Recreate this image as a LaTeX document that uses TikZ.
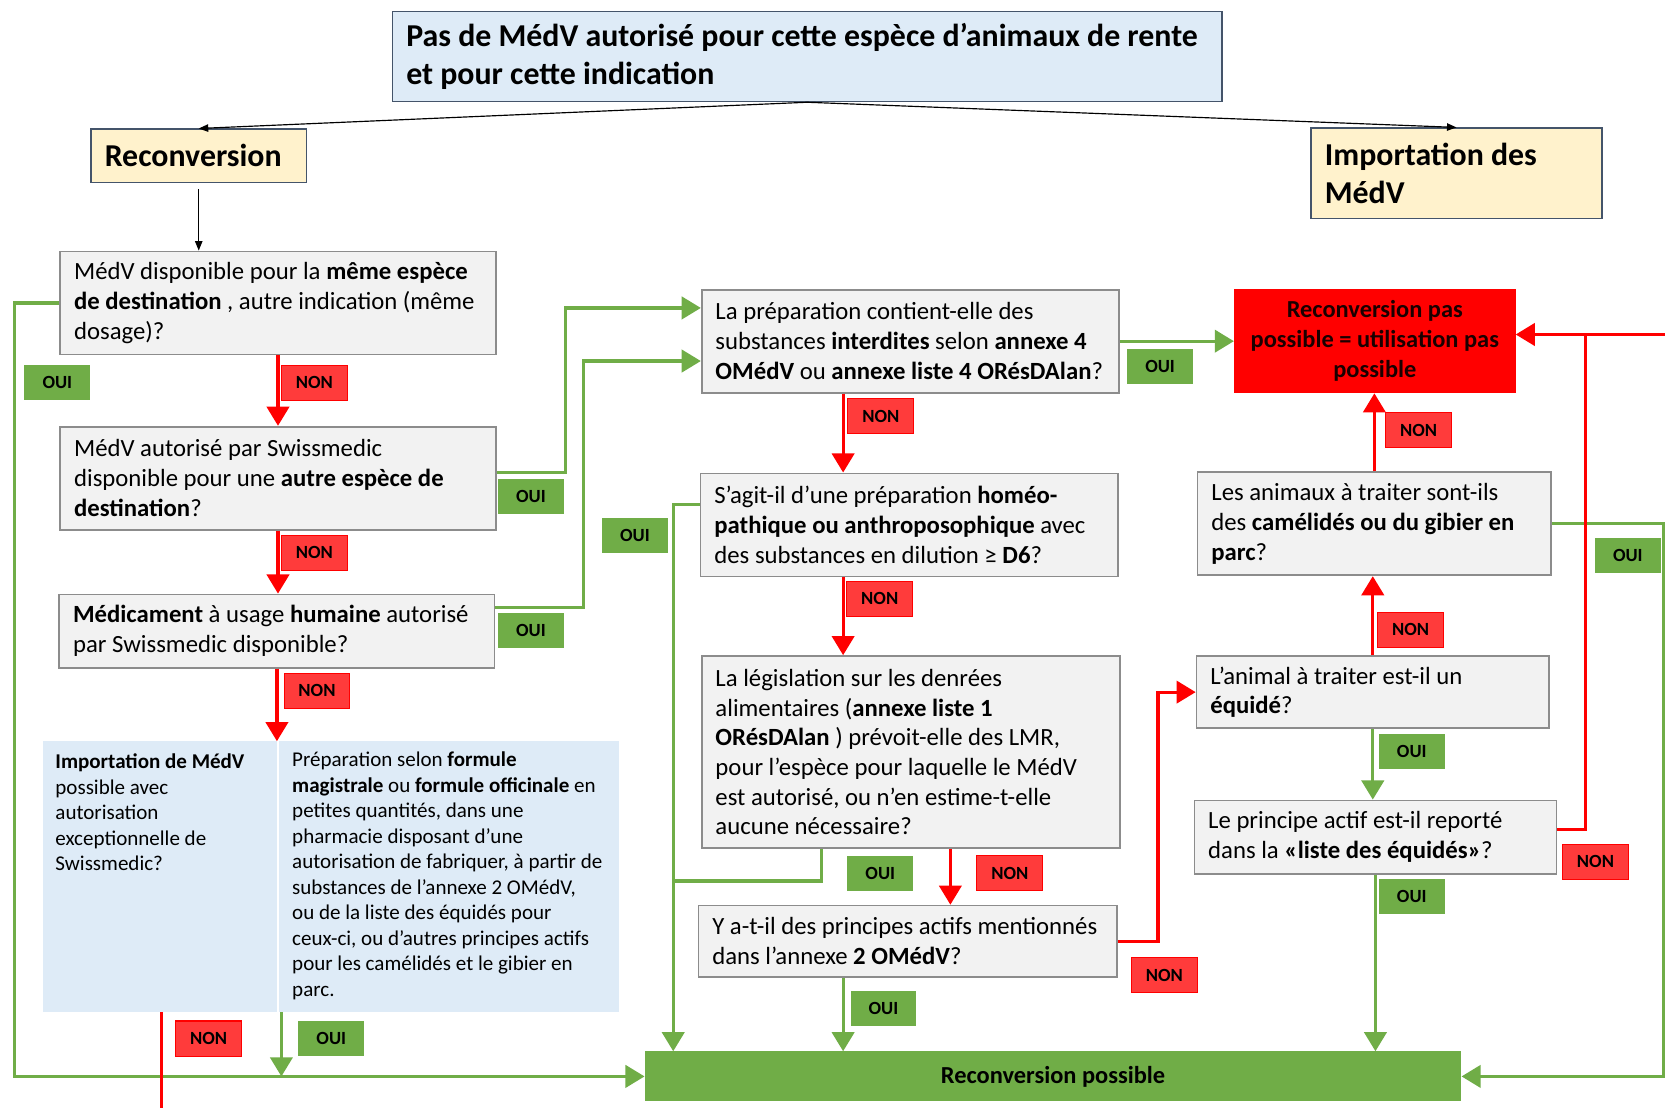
\documentclass[tikz,border=0pt]{standalone}
\usepackage{fontspec}
\setmainfont{Carlito}
\usetikzlibrary{arrows.meta,calc}
\definecolor{boxfill}{HTML}{F2F2F2}
\definecolor{boxline}{HTML}{8C8C8C}
\definecolor{topfill}{HTML}{DEEBF7}
\definecolor{topline}{HTML}{44546A}
\definecolor{recfill}{HTML}{FFF2CC}
\definecolor{regfill}{HTML}{DEEBF7}
\definecolor{okgreen}{HTML}{70AD47}
\definecolor{nored}{HTML}{FF0000}
\definecolor{lblred}{HTML}{FF3B3B}
\definecolor{darktxt}{HTML}{1A0000}
\newcommand\Lx[1]{\mbox{#1}}
\begin{document}
\begin{tikzpicture}[x=1pt,y=-1pt,
  natsp/.style={execute at begin node={\spaceskip=0pt\xspaceskip=0pt}},
  qbox/.style={natsp, draw=boxline, fill=boxfill, line width=1.6pt, anchor=north west, align=left, inner xsep=13pt, inner ysep=0pt, font=\fontsize{23.3}{28}\selectfont},
  wh/.style 2 args={minimum width=#1pt, minimum height=#2pt},
  hdr/.style={natsp, draw=topline, line width=1.3pt, anchor=north west, align=left, inner xsep=13pt, inner ysep=0pt, font=\bfseries\fontsize{30}{36}\selectfont},
  region/.style={fill=regfill, anchor=north west, inner xsep=12pt, font=\fontsize{19.8}{24}\selectfont},
  lbl/.style={minimum width=62pt, minimum height=33pt, inner sep=0pt, font=\bfseries\fontsize{17.5}{20}\selectfont},
  oui/.style={lbl, fill=okgreen},
  non/.style={lbl, fill=lblred, draw=nored, line width=1pt},
  garr/.style={draw=okgreen, line width=3pt, -{Triangle[width=21pt,length=18pt]}},
  gln/.style={draw=okgreen, line width=3pt},
  rarr/.style={draw=nored, line width=3pt, -{Triangle[width=21pt,length=18pt]}},
  rln/.style={draw=nored, line width=3pt},
  thin/.style={draw=black, line width=1.1pt, -{Triangle[width=7pt,length=9pt]}}]
\fill[white] (0,0) rectangle (1568,1043);
\useasboundingbox (0,0) rectangle (1568,1043);

% header nodes
\node[hdr, fill=topfill, wh={781}{85}, text width=755pt] (top) at (369,10)
  {\Lx{Pas de MédV autorisé pour cette espèce d’animaux de rente}\\\Lx{et pour cette indication}};
\node[hdr, fill=recfill, wh={203}{50}, text width=177pt] (rec) at (85,121) {Reconversion};
\node[hdr, fill=recfill, wh={274}{85}, text width=248pt] (imp) at (1234,120) {\Lx{Importation des}\\MédV};

% left column
\node[qbox, wh={410}{97}, text width=384pt] (b1) at (56,236)
  {\Lx{MédV disponible pour la \textbf{même espèce}}\\\Lx{\textbf{de destination} , autre indication (même}\\\Lx{dosage)?}};
\node[qbox, wh={410}{97}, text width=384pt] (b2) at (56,401)
  {\Lx{MédV autorisé par Swissmedic}\\\Lx{disponible pour une \textbf{autre espèce de}}\\\Lx{\textbf{destination}?}};
\node[qbox, wh={410}{69}, text width=384pt] (b3) at (55,559)
  {\Lx{\textbf{Médicament} à usage \textbf{humaine} autorisé}\\\Lx{par Swissmedic disponible?}};

\node[region, inner ysep=12pt, wh={221}{255}] (impL) at (40,698)
  {\parbox[t][231pt][t]{197pt}{\Lx{\textbf{Importation de MédV}}\\\Lx{possible avec}\\\Lx{autorisation}\\\Lx{exceptionnelle de}\\\Lx{Swissmedic?}}};
\node[region, inner ysep=10pt, wh={320}{255}] (prep) at (263,698)
  {\parbox[t][235pt][t]{296pt}{\Lx{Préparation selon \textbf{formule}}\\\Lx{\textbf{magistrale} ou \textbf{formule officinale} en}\\\Lx{petites quantités, dans une}\\\Lx{pharmacie disposant d’une}\\\Lx{autorisation de fabriquer, à partir de}\\\Lx{substances de l’annexe 2 OMédV,}\\\Lx{ou de la liste des équidés pour}\\\Lx{ceux-ci, ou d’autres principes actifs}\\\Lx{pour les camélidés et le gibier en}\\\Lx{parc.}}};

% middle column
\node[qbox, wh={393}{97}, text width=367pt] (q1) at (660,272)
  {\Lx{La préparation contient-elle des}\\\Lx{substances \textbf{interdites} selon \textbf{annexe 4}}\\\Lx{\textbf{OMédV} ou \textbf{annexe liste 4 ORésDAlan}?}};
\node[qbox, wh={393}{97}, text width=367pt] (q2) at (659,445)
  {\Lx{S’agit-il d’une préparation \textbf{homéo-}}\\\Lx{\textbf{pathique ou anthroposophique} avec}\\\Lx{des substances en dilution ≥ \textbf{D6}?}};
\node[qbox, wh={394}{181}, text width=368pt] (q3) at (660,617)
  {\Lx{La législation sur les denrées}\\\Lx{alimentaires (\textbf{annexe liste 1}}\\\Lx{\textbf{ORésDAlan} ) prévoit-elle des LMR,}\\\Lx{pour l’espèce pour laquelle le MédV}\\\Lx{est autorisé, ou n’en estime-t-elle}\\\Lx{aucune nécessaire?}};
\node[qbox, wh={394}{67}, text width=368pt] (q4) at (657,852)
  {\Lx{Y a-t-il des principes actifs mentionnés}\\\Lx{dans l’annexe \textbf{2 OMédV}?}};

% right column
\node[natsp, anchor=north west, fill=nored, wh={265}{98}, align=center, text width=259pt, inner xsep=3pt, inner ysep=0pt, text=darktxt, font=\bfseries\fontsize{23}{28}\selectfont] (rb) at (1162,272)
  {\Lx{Reconversion pas}\\\Lx{possible = utilisation pas}\\\Lx{possible}};
\node[qbox, wh={333}{97}, text width=307pt] (r1) at (1127,444)
  {\Lx{Les animaux à traiter sont-ils}\\\Lx{des \textbf{camélidés ou du gibier en}}\\\Lx{\textbf{parc}?}};
\node[qbox, wh={332}{68}, text width=306pt] (r2) at (1126,617)
  {\Lx{L’animal à traiter est-il un}\\\Lx{\textbf{équidé}?}};
\node[qbox, wh={341}{69}, text width=315pt] (r3) at (1124,753)
  {\Lx{Le principe actif est-il reporté}\\\Lx{dans la \textbf{«liste des équidés»}?}};

\node[anchor=north west, fill=okgreen, wh={769}{47}, inner sep=0pt, font=\bfseries\fontsize{23}{28}\selectfont] (rp) at (607,990) {Reconversion possible};

% thin black connectors
\draw[thin] (top.south) -- (rec.north);
\draw[thin] (top.south) -- (imp.north);
\draw[thin] ($(rec.south)+(0,6)$) -- (rec.south |- b1.north);

% green connectors
\draw[garr] (b1.west) -- ++(-42,0) |- (rp.west);
\draw[garr] ($(b2.east)+(0,-5)$) -- ++(65,0) |- ($(q1.north west)+(0,18)$);
\draw[garr] ($(b3.north east)+(0,13)$) -- ++(83,0) |- ($(q1.north west)+(0,68)$);
\draw[garr] (q1.east) -- (q1.east -| rb.west);
\draw[garr] ($(q2.north west)+(0,30)$) -| ($(rp.north west)+(27,0)$);
\draw[gln] ($(q3.south west)+(114,0)$) -- ++(0,30) -- ++(-140,0);
\coordinate (q4o) at ($(q4.south west)+(137,0)$);
\draw[garr] (q4o) -- (q4o |- rp.north);
\draw[garr] (r2.south) -- (r2.south |- r3.north);
\draw[garr] (r3.south) -- (r3.south |- rp.north);
\draw[garr] (r1.east) -- ++(105,0) |- (rp.east);
\coordinate (prepo) at ($(prep.south west)+(2,0)$);
\draw[garr] (prepo) -- (prepo |- rp.west);

% red connectors
\draw[rarr] (b1.south) -- (b1.south |- b2.north);
\draw[rarr] (b2.south) -- (b2.south |- b3.north);
\draw[rarr] (b3.south) -- (b3.south |- prep.north);
\coordinate (q1n) at ($(q1.south west)+(134,0)$);
\draw[rarr] (q1n) -- (q1n |- q2.north);
\coordinate (q2n) at ($(q2.south west)+(135,0)$);
\draw[rarr] (q2n) -- (q2n |- q3.north);
\coordinate (q3n) at ($(q3.south west)+(235,0)$);
\draw[rarr] (q3n) -- (q3n |- q4.north);
\draw[rarr] (q4.east) -- ++(38,0) |- (r2.west);
\draw[rarr] (r2.north) -- (r2.north |- r1.south);
\draw[rarr] (r1.north) -- (r1.north |- rb.south);
\coordinate (redin) at (1568,315);
\draw[rln] ($(r3.east)+(0,-7)$) -| ($(redin)+(-75,0)$);
\draw[rarr] (redin) -- (redin -| rb.east);
\coordinate (botn) at (152,1043);
\draw[rln] (impL.south -| botn) -- (botn);

% labels
\node[oui] (o1) at (54,360.5) {OUI};
\node[non] (n1) at (296,360.5) {NON};
\node[oui] (o2) at (500,467.5) {OUI};
\node[non] (n2) at (296,520.5) {NON};
\node[oui] (o3) at (500,593.5) {OUI};
\node[non] (n3) at (298.5,650.5) {NON};
\node[oui] (oq2) at (598,504.5) {OUI};
\node[oui] (oq1) at (1092.5,345) {OUI};
\node[non] (nq1) at (829.5,392) {NON};
\node[non] (nq2) at (828.5,564) {NON};
\node[oui] (oq3) at (829,822.5) {OUI};
\node[non] (nq3) at (951,822.5) {NON};
\node[oui] (oq4) at (832,950) {OUI};
\node[non] (nq4) at (1096.5,918.5) {NON};
\node[non] (nr1) at (1336,405) {NON};
\node[non] (nr2) at (1328.5,593) {NON};
\node[oui] (or2) at (1329.5,707.5) {OUI};
\node[oui] (or3) at (1329.5,844.5) {OUI};
\node[non] (nr3) at (1502.5,811.5) {NON};
\node[oui] (or1) at (1533,523.5) {OUI};
\node[non] (nb) at (196.5,978) {NON};
\node[oui] (ob) at (312,978) {OUI};
\end{tikzpicture}
\end{document}
